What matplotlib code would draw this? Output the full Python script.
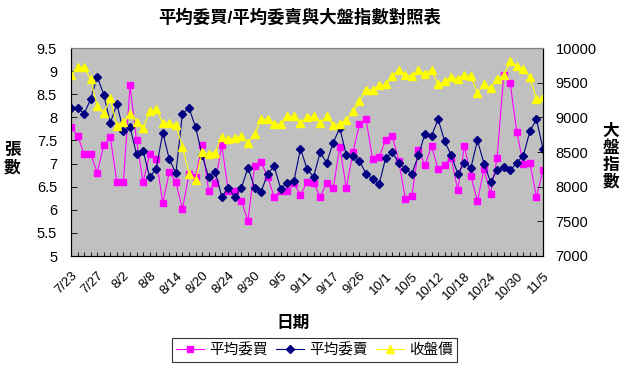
import numpy as np
import matplotlib
matplotlib.use("Agg")
import matplotlib.pyplot as plt
from matplotlib.ticker import FormatStrFormatter

plt.rcParams['font.family'] = ['Liberation Sans', 'Noto Sans CJK TC']

# ===== Data =====
dates = ["7/23", "7/24", "7/25", "7/26", "7/27", "7/30", "7/31", "8/1", "8/2", "8/3",
         "8/6", "8/7", "8/8", "8/9", "8/10", "8/13", "8/14", "8/15", "8/16", "8/17",
         "8/20", "8/21", "8/22", "8/23", "8/24", "8/27", "8/28", "8/29", "8/30", "8/31",
         "9/3", "9/4", "9/5", "9/6", "9/7", "9/10", "9/11", "9/12", "9/13", "9/14",
         "9/17", "9/20", "9/21", "9/25", "9/26", "9/27", "9/28", "9/29", "10/1", "10/2",
         "10/3", "10/4", "10/5", "10/8", "10/9", "10/11", "10/12", "10/15", "10/16", "10/17",
         "10/18", "10/19", "10/22", "10/23", "10/24", "10/25", "10/26", "10/29", "10/30", "10/31",
         "11/1", "11/2", "11/5"]

avg_buy = [7.79, 7.60, 7.21, 7.21, 6.80, 7.40, 7.57, 6.60, 6.60, 8.69,
           7.50, 6.60, 7.20, 7.09, 6.15, 6.82, 6.60, 6.01, 6.78, 6.71,
           7.40, 6.41, 6.58, 7.40, 6.40, 6.41, 6.19, 5.76, 6.94, 7.04,
           6.70, 6.28, 6.40, 6.40, 6.57, 6.32, 6.60, 6.58, 6.28, 6.58,
           6.47, 7.36, 6.47, 7.24, 7.85, 7.97, 7.09, 7.14, 7.51, 7.60,
           7.06, 6.24, 6.30, 7.30, 6.96, 7.38, 6.88, 6.96, 7.13, 6.42,
           7.38, 6.73, 6.19, 6.88, 6.34, 7.13, 8.91, 8.74, 7.68, 6.99,
           7.01, 6.28, 6.86]

avg_sell = [8.20, 8.20, 8.08, 8.39, 8.88, 8.49, 7.88, 8.29, 7.70, 7.79,
            7.20, 7.28, 6.70, 6.89, 7.67, 7.09, 6.79, 8.08, 8.20, 7.79,
            7.18, 6.70, 6.82, 6.28, 6.48, 6.27, 6.48, 6.91, 6.48, 6.39,
            6.78, 6.94, 6.45, 6.59, 6.62, 7.32, 6.89, 6.71, 7.24, 7.02,
            7.45, 7.77, 7.18, 7.16, 7.06, 6.78, 6.66, 6.55, 7.12, 7.24,
            7.02, 6.88, 6.78, 7.18, 7.65, 7.60, 7.96, 7.48, 7.18, 6.78,
            7.02, 6.91, 7.50, 7.00, 6.60, 6.86, 6.93, 6.85, 7.02, 7.17,
            7.70, 7.96, 7.32]

close = [9604, 9724, 9724, 9547, 9163, 9062, 9278, 8875, 8933, 9043,
         8933, 8846, 9086, 9125, 8918, 8918, 8885, 8573, 8189, 8094,
         8501, 8477, 8492, 8717, 8683, 8703, 8727, 8636, 8765, 8971,
         8971, 8904, 8904, 9014, 9014, 8923, 9005, 9014, 8918, 9019,
         8885, 8909, 8966, 9086, 9235, 9398, 9398, 9460, 9475, 9595,
         9686, 9614, 9595, 9686, 9628, 9686, 9475, 9518, 9580, 9556,
         9614, 9595, 9350, 9475, 9422, 9556, 9604, 9806, 9739, 9700,
         9580, 9268, 9293]

x = np.arange(len(dates))

fig = plt.figure(figsize=(6.25, 3.7), dpi=100)
ax = fig.add_axes([71/625, 1 - 256/370, 472/625, 208/370])
ax.set_facecolor('#c0c0c0')

l1, = ax.plot(x, avg_buy, color='#ff00ff', lw=0.8, marker='s', ms=4.2,
              mec='#ff00ff', mfc='#ff00ff', label='平均委買')
l2, = ax.plot(x, avg_sell, color='#000080', lw=0.8, marker='D', ms=3.8,
              mec='#000080', mfc='#000080', label='平均委賣')

ax2 = ax.twinx()
l3, = ax2.plot(x, close, color='#ffff00', lw=0.8, marker='^', ms=5.5,
               mec='#ffff00', mfc='#ffff00', label='收盤價')

ax.set_xlim(0, len(dates) - 1)
ax.set_ylim(5, 9.5)
ax.set_yticks(np.arange(5, 9.51, 0.5))
ax.yaxis.set_major_formatter(FormatStrFormatter('%g'))
ax2.set_ylim(7000, 10000)
ax2.set_yticks(np.arange(7000, 10001, 500))

ax.set_xticks(x)
ax.set_xticklabels([d if i % 4 == 0 else '' for i, d in enumerate(dates)],
                   rotation=45, ha='right', va='top', rotation_mode='anchor', fontsize=9.5)

ax.tick_params(axis='x', direction='in', length=3, width=0.6, pad=10)
ax.tick_params(axis='y', direction='in', length=4, width=0.6, pad=10, labelsize=10.5)
ax2.tick_params(axis='y', direction='in', length=4, width=0.6, pad=9, labelsize=10.5)

for a in (ax, ax2):
    for s in a.spines.values():
        s.set_linewidth(0.8)
    a.spines['top'].set_color('#808080')

# titles / axis names
fig.text(300/625, 1 - 17/370, '平均委買/平均委賣與大盤指數對照表', ha='center', va='center',
         fontsize=12.5, fontweight='bold')
fig.text(12/625, 1 - 159/370, '張\n數', ha='center', va='center',
         fontsize=12, fontweight='bold', linespacing=1.2)
fig.text(611/625, 1 - 157/370, '大\n盤\n指\n數', ha='center', va='center',
         fontsize=12, fontweight='bold', linespacing=1.12)
fig.text(293/625, 1 - 323/370, '日期', ha='center', va='center',
         fontsize=12, fontweight='bold')

leg = fig.legend(handles=[l1, l2, l3], loc='center', bbox_to_anchor=(314.5/625, 1 - 350/370),
                 ncol=3, fontsize=10.5, frameon=True, fancybox=False, edgecolor='black',
                 handlelength=1.9, handletextpad=0.35, columnspacing=0.6, borderpad=0.3)
leg.get_frame().set_linewidth(0.8)

fig.savefig('out.png', dpi=100)
